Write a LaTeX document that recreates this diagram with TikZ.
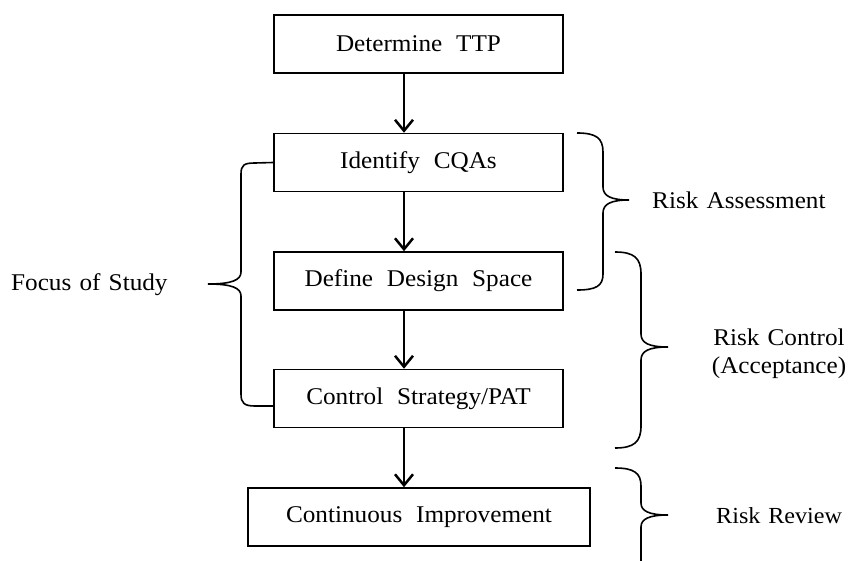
\documentclass[tikz,border=0pt]{standalone}
\usepackage{fontspec}
\setmainfont[FakeStretch=1.05,WordSpace=1.3]{Liberation Serif}
\newfontfamily\boxfont[FakeStretch=1.05,WordSpace=2.2]{Liberation Serif}
\usetikzlibrary{arrows.meta}
\begin{document}
\begin{tikzpicture}[x=1pt,y=-1pt,
  stepbox/.style={draw,line width=1.5pt,minimum width=289pt,minimum height=58pt,inner sep=0pt,font=\boxfont\fontsize{24}{28}\selectfont},
  flow/.style={line width=2.5pt,-{Straight Barb[length=11pt,width=18pt,line width=2.5pt]}},
  bracepath/.style={line width=1.6pt,line join=miter},
  lab/.style={font=\fontsize{24}{28}\selectfont,inner sep=0pt}]
\useasboundingbox (0,0) rectangle (848,561);
\node[stepbox] (det) at (418.5,44) {Determine TTP};
\node[stepbox] (ide) at (418.5,162.5) {Identify CQAs};
\node[stepbox] (def) at (418.5,281) {Define Design Space};
\node[stepbox] (ctl) at (418.5,398.5) {Control Strategy/PAT};
\node[stepbox,minimum width=342pt] (imp) at (419,517) {Continuous Improvement};
\coordinate (col) at (404,0);
\draw[flow] (det.south -| col) -- (ide.north -| col);
\draw[flow] (ide.south -| col) -- (def.north -| col);
\draw[flow] (def.south -| col) -- (ctl.north -| col);
\draw[flow] (ctl.south -| col) -- (imp.north -| col);
% left brace (Focus of Study)
\draw[bracepath] (ide.west) -- (255,163) .. controls (244,163) and (241,165) .. (241,174) -- (241,272)
  .. controls (241,280) and (232,284) .. (208,284)
  .. controls (232,284) and (241,288) .. (241,296) -- (241,394)
  .. controls (241,403) and (244,406) .. (255,406) -- (ctl.west |- 0,406);
% right braces
\draw[bracepath] (577,133) .. controls (596,133) and (603,138) .. (603,152) -- (603,187)
  .. controls (603,196) and (611,200) .. (629,200)
  .. controls (611,200) and (603,204) .. (603,213) -- (603,274)
  .. controls (603,286) and (596,290) .. (577,290);
\draw[bracepath] (615,252) .. controls (634,252) and (641,258) .. (641,274) -- (641,334)
  .. controls (641,343) and (649,347) .. (668,347)
  .. controls (649,347) and (641,351) .. (641,360) -- (641,426)
  .. controls (641,442) and (634,448) .. (615,448);
\draw[bracepath] (615,468) .. controls (634,468) and (641,473) .. (641,486) -- (641,503)
  .. controls (641,511) and (649,515) .. (668,515)
  .. controls (649,515) and (641,519) .. (641,527) -- (641,561);
\node[lab,anchor=west] (ra) at (652,200) {Risk Assessment};
\node[lab,align=center] (rc) at (779,354) {Risk Control\\(Acceptance)};
\node[lab,anchor=west,font=\fontsize{23}{28}\selectfont] (rr) at (716,516) {Risk Review};
\node[lab,anchor=west] (fs) at (11,285) {Focus of Study};
\end{tikzpicture}
\end{document}
